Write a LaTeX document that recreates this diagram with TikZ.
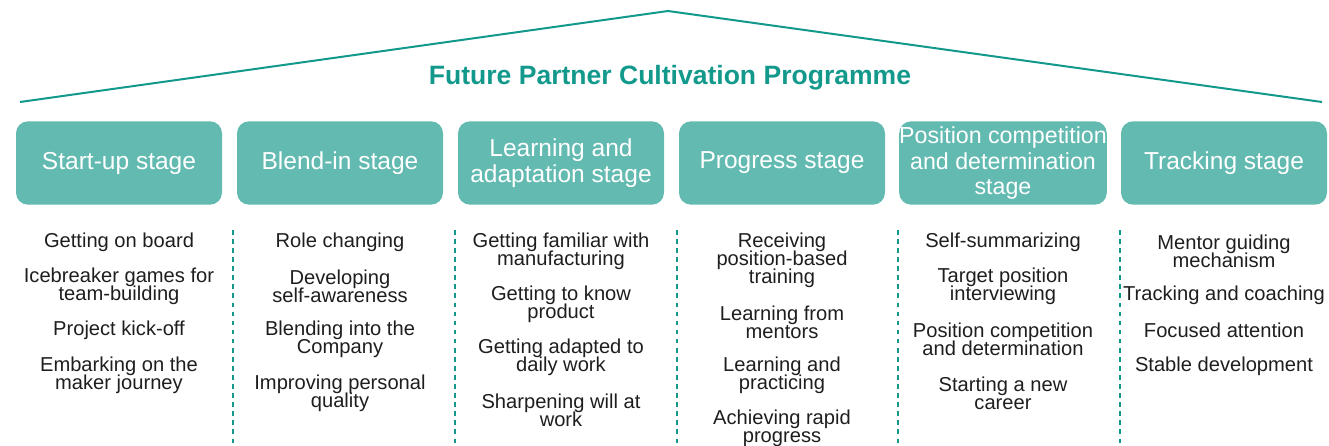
\documentclass[tikz,border=0pt]{standalone}
\usepackage{fontspec}
\setmainfont{Liberation Sans}
\definecolor{teal1}{HTML}{12998C}
\definecolor{boxfill}{HTML}{62BAB1}
\definecolor{itemtxt}{HTML}{1E1E1E}
\newcommand{\mytight}{\lineskiplimit-20pt\relax}
\tikzset{
  stagebox/.style={fill=boxfill, draw=none, rounded corners=9pt, minimum width=154.5pt, minimum height=62.5pt, inner sep=0pt, align=center, text=white, font=\fontsize{18.4}{19.3}\selectfont\mytight},
  itemtext/.style={align=center, inner sep=0pt, text=itemtxt, font=\fontsize{15.1}{13.5}\selectfont\mytight},
  roofline/.style={draw=teal1, line width=1.5pt},
  sepline/.style={draw=teal1, line width=1.6pt, dash pattern=on 3.5pt off 3.3pt},
  titletext/.style={text=teal1, font=\fontsize{19.9}{22}\selectfont\bfseries, inner sep=0pt}
}
\begin{document}
\begin{tikzpicture}[x=0.75pt, y=-0.75pt]
\useasboundingbox (0,0) rectangle (1329,446);
% roof
\coordinate (roofL) at (20,102);
\coordinate (apex) at (668,11);
\coordinate (roofR) at (1322,102);
\draw[roofline] (roofL) -- (apex) -- (roofR);
\node[titletext] (title) at (670,78) {Future Partner Cultivation Programme};
% stage boxes
\node[stagebox] (s1) at (119,163) {Start-up stage};
\node[stagebox] (s2) at (340,163) {Blend-in stage};
\node[stagebox] (s3) at (561,163) {Learning and\\adaptation stage};
\node[stagebox] (s4) at (782,163) {Progress stage};
\node[stagebox, font=\fontsize{17.4}{19.3}\selectfont\mytight] (s5) at (1003,163) {Position competition\\and determination\\stage};
\node[stagebox] (s6) at (1224,163) {Tracking stage};
% separators
\foreach \i/\x in {1/233,2/455,3/677,4/898,5/1120}{
  \coordinate (d\i t) at (\x,230);
  \coordinate (d\i b) at (\x,446);
  \draw[sepline] (d\i t) -- (d\i b);
}
% column 1
\node[itemtext] (a1) at (119,242.5) {Getting on board};
\node[itemtext] (a2) at (119,286.5) {Icebreaker games for\\team-building};
\node[itemtext] (a3) at (119,330.5) {Project kick-off};
\node[itemtext] (a4) at (119,375.5) {Embarking on the\\maker journey};
% column 2
\node[itemtext] (b1) at (340,242.5) {Role changing};
\node[itemtext] (b2) at (340,286.5) {Developing\\self-awareness};
\node[itemtext] (b3) at (340,339.5) {Blending into the\\Company};
\node[itemtext] (b4) at (340,393.5) {Improving personal\\quality};
% column 3
\node[itemtext] (c1) at (561,251.5) {Getting familiar with\\manufacturing};
\node[itemtext] (c2) at (561,304.5) {Getting to know\\product};
\node[itemtext] (c3) at (561,357.5) {Getting adapted to\\daily work};
\node[itemtext] (c4) at (561,410.5) {Sharpening will at\\work};
% column 4
\node[itemtext] (e1) at (782,260.5) {Receiving\\position-based\\training};
\node[itemtext] (e2) at (782,322.5) {Learning from\\mentors};
\node[itemtext] (e3) at (782,375.5) {Learning and\\practicing};
\node[itemtext] (e4) at (782,428.5) {Achieving rapid\\progress};
% column 5
\node[itemtext] (f1) at (1003,242.5) {Self-summarizing};
\node[itemtext] (f2) at (1003,286.5) {Target position\\interviewing};
\node[itemtext] (f3) at (1003,339.5) {Position competition\\and determination};
\node[itemtext] (f4) at (1003,393.5) {Starting a new\\career};
% column 6
\node[itemtext] (g1) at (1224,251.5) {Mentor guiding\\mechanism};
\node[itemtext] (g2) at (1224,295.5) {Tracking and coaching};
\node[itemtext] (g3) at (1224,330.5) {Focused attention};
\node[itemtext] (g4) at (1224,366.5) {Stable development};
\end{tikzpicture}
\end{document}
